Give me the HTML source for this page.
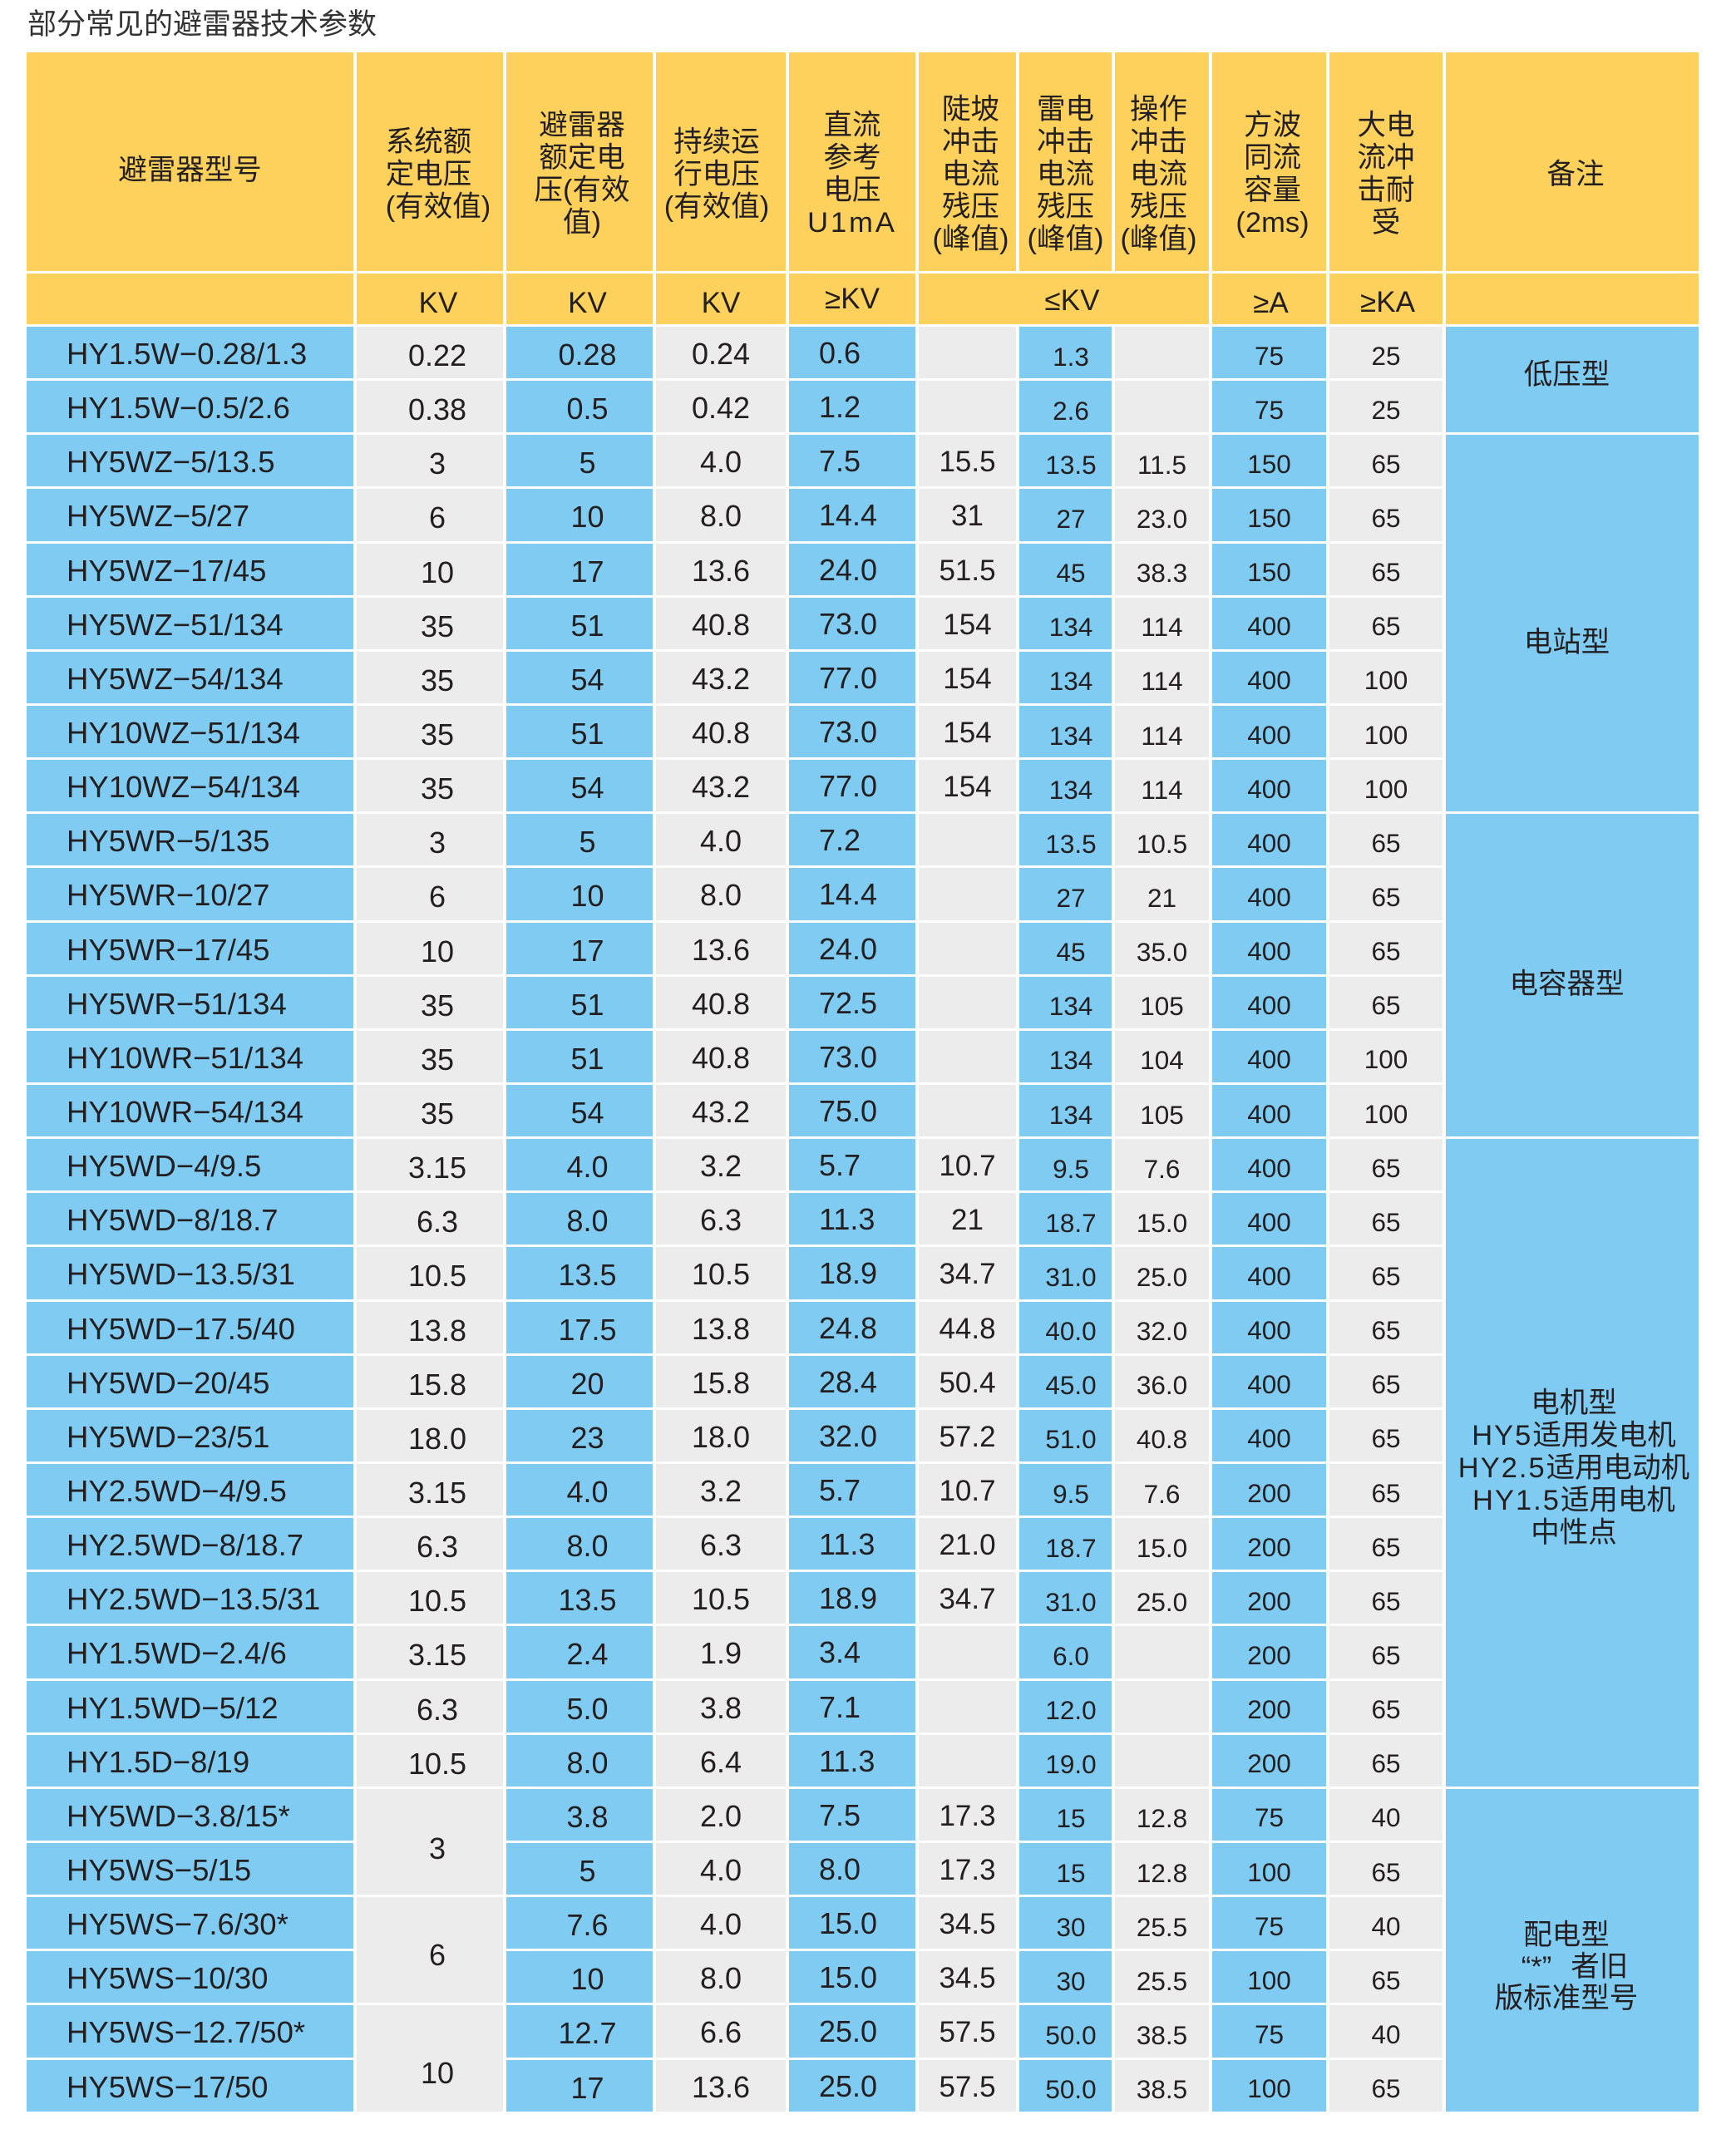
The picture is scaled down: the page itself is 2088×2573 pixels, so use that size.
<!DOCTYPE html>
<html lang="zh-CN">
<head>
<meta charset="utf-8">
<style>
*{margin:0;padding:0;box-sizing:border-box}
html,body{width:2088px;height:2573px}
body{background:#fff;position:relative;overflow:hidden;font-family:"Liberation Sans","Noto Sans CJK SC",sans-serif;color:#231f20}
.t{position:absolute;left:33px;top:6px;font-size:35px;line-height:48px;color:#333;white-space:nowrap}
.h{position:absolute;top:63px;height:263px;background:#FDD15B;display:flex;align-items:center;justify-content:center;padding-top:31px;font-size:34.5px;line-height:39px;text-align:center;white-space:nowrap}
.s{position:absolute;top:329px;height:60.5px;background:#FDD15B;display:flex;align-items:center;justify-content:center;font-size:35px;padding-top:9px;white-space:nowrap}
.col{position:absolute;top:393px;display:grid;grid-template-columns:100%;grid-auto-rows:62.15px;row-gap:3px}
.col>div{display:flex;align-items:center;justify-content:center;white-space:nowrap}
.b>div{background:#7FCBF2}
.g>div{background:#ECECEC}
.c0{left:32px;width:393px}
.c0>div{justify-content:flex-start;padding-left:48px;padding-top:4px;font-size:36.5px}
.c1{left:429px;width:176px}
.c1>div{padding-left:18px;padding-top:8px;font-size:36px}
.c2{left:609px;width:176px}
.c2>div{padding-left:19px;padding-top:6px;font-size:36px}
.c3{left:789px;width:156px}
.c3>div{padding-top:4px;font-size:36px}
.c4{left:949px;width:152px}
.c4>div{justify-content:flex-start;padding-left:36px;padding-top:2px;font-size:36px}
.c5{left:1105px;width:117px}
.c5>div{padding-top:4px;font-size:35px}
.c6{left:1226px;width:111px}
.c6>div{padding-left:13px;padding-top:10px;font-size:31.5px}
.c7{left:1341px;width:113px}
.c7>div{padding-top:10px;font-size:31.5px}
.c8{left:1458px;width:137px}
.c8>div{padding-top:8px;font-size:31.5px}
.c9{left:1599px;width:136px}
.c9>div{padding-top:8px;font-size:31.5px}
.c10{left:1739px;width:304px}
.c10>div{font-size:34.5px;line-height:39px;text-align:center;flex-direction:column}
.lt{letter-spacing:2px}
</style>
</head>
<body>
<div class="t">部分常见的避雷器技术参数</div>

<div class="h" style="left:32px;width:393px;padding-top:21px"><div>避雷器型号</div></div>
<div class="h" style="left:429px;width:176px;padding-left:20px"><div style="text-align:left">系统额<br>定电压<br>(有效值)</div></div>
<div class="h" style="left:609px;width:176px;padding-left:6px"><div>避雷器<br>额定电<br>压(有效<br>值)</div></div>
<div class="h" style="left:789px;width:156px;padding-right:10px"><div>持续运<br>行电压<br>(有效值)</div></div>
<div class="h" style="left:949px;width:152px"><div>直流<br>参考<br>电压<br><span style="letter-spacing:3px">U1mA</span></div></div>
<div class="h" style="left:1105px;width:117px;padding-left:8px"><div>陡坡<br>冲击<br>电流<br>残压<br>(峰值)</div></div>
<div class="h" style="left:1226px;width:111px"><div>雷电<br>冲击<br>电流<br>残压<br>(峰值)</div></div>
<div class="h" style="left:1341px;width:113px;padding-right:8px"><div>操作<br>冲击<br>电流<br>残压<br>(峰值)</div></div>
<div class="h" style="left:1458px;width:137px;padding-left:8px"><div>方波<br>同流<br>容量<br>(2ms)</div></div>
<div class="h" style="left:1599px;width:136px"><div>大电<br>流冲<br>击耐<br>受</div></div>
<div class="h" style="left:1739px;width:304px;padding-left:8px"><div>备注</div></div>

<div class="s" style="left:32px;width:393px"></div>
<div class="s" style="left:429px;width:176px;padding-left:20px;padding-top:11px">KV</div>
<div class="s" style="left:609px;width:176px;padding-left:19px;padding-top:11px">KV</div>
<div class="s" style="left:789px;width:156px;padding-top:11px">KV</div>
<div class="s" style="left:949px;width:152px;padding-top:1px">≥KV</div>
<div class="s" style="left:1105px;width:349px;padding-left:20px;padding-top:5px">≤KV</div>
<div class="s" style="left:1458px;width:137px;padding-left:4px;padding-top:11px">≥A</div>
<div class="s" style="left:1599px;width:136px;padding-left:4px;padding-top:10px">≥KA</div>
<div class="s" style="left:1739px;width:304px"></div>

<div class="col b c0">
<div>HY1.5W−0.28/1.3</div>
<div>HY1.5W−0.5/2.6</div>
<div>HY5WZ−5/13.5</div>
<div>HY5WZ−5/27</div>
<div>HY5WZ−17/45</div>
<div>HY5WZ−51/134</div>
<div>HY5WZ−54/134</div>
<div>HY10WZ−51/134</div>
<div>HY10WZ−54/134</div>
<div>HY5WR−5/135</div>
<div>HY5WR−10/27</div>
<div>HY5WR−17/45</div>
<div>HY5WR−51/134</div>
<div>HY10WR−51/134</div>
<div>HY10WR−54/134</div>
<div>HY5WD−4/9.5</div>
<div>HY5WD−8/18.7</div>
<div>HY5WD−13.5/31</div>
<div>HY5WD−17.5/40</div>
<div>HY5WD−20/45</div>
<div>HY5WD−23/51</div>
<div>HY2.5WD−4/9.5</div>
<div>HY2.5WD−8/18.7</div>
<div>HY2.5WD−13.5/31</div>
<div>HY1.5WD−2.4/6</div>
<div>HY1.5WD−5/12</div>
<div>HY1.5D−8/19</div>
<div>HY5WD−3.8/15*</div>
<div>HY5WS−5/15</div>
<div>HY5WS−7.6/30*</div>
<div>HY5WS−10/30</div>
<div>HY5WS−12.7/50*</div>
<div>HY5WS−17/50</div>
</div>

<div class="col g c1">
<div>0.22</div><div>0.38</div><div>3</div><div>6</div><div>10</div><div>35</div><div>35</div><div>35</div><div>35</div>
<div>3</div><div>6</div><div>10</div><div>35</div><div>35</div><div>35</div>
<div>3.15</div><div>6.3</div><div>10.5</div><div>13.8</div><div>15.8</div><div>18.0</div>
<div>3.15</div><div>6.3</div><div>10.5</div><div>3.15</div><div>6.3</div><div>10.5</div>
<div style="grid-row:span 2;padding-top:18px">3</div>
<div style="grid-row:span 2;padding-top:12px">6</div>
<div style="grid-row:span 2;padding-top:35px">10</div>
</div>

<div class="col b c2">
<div>0.28</div><div>0.5</div><div>5</div><div>10</div><div>17</div><div>51</div><div>54</div><div>51</div><div>54</div>
<div>5</div><div>10</div><div>17</div><div>51</div><div>51</div><div>54</div>
<div>4.0</div><div>8.0</div><div>13.5</div><div>17.5</div><div>20</div><div>23</div>
<div>4.0</div><div>8.0</div><div>13.5</div><div>2.4</div><div>5.0</div><div>8.0</div>
<div>3.8</div><div>5</div><div>7.6</div><div>10</div><div>12.7</div><div>17</div>
</div>

<div class="col g c3">
<div>0.24</div><div>0.42</div><div>4.0</div><div>8.0</div><div>13.6</div><div>40.8</div><div>43.2</div><div>40.8</div><div>43.2</div>
<div>4.0</div><div>8.0</div><div>13.6</div><div>40.8</div><div>40.8</div><div>43.2</div>
<div>3.2</div><div>6.3</div><div>10.5</div><div>13.8</div><div>15.8</div><div>18.0</div>
<div>3.2</div><div>6.3</div><div>10.5</div><div>1.9</div><div>3.8</div><div>6.4</div>
<div>2.0</div><div>4.0</div><div>4.0</div><div>8.0</div><div>6.6</div><div>13.6</div>
</div>

<div class="col b c4">
<div>0.6</div><div>1.2</div><div>7.5</div><div>14.4</div><div>24.0</div><div>73.0</div><div>77.0</div><div>73.0</div><div>77.0</div>
<div>7.2</div><div>14.4</div><div>24.0</div><div>72.5</div><div>73.0</div><div>75.0</div>
<div>5.7</div><div>11.3</div><div>18.9</div><div>24.8</div><div>28.4</div><div>32.0</div>
<div>5.7</div><div>11.3</div><div>18.9</div><div>3.4</div><div>7.1</div><div>11.3</div>
<div>7.5</div><div>8.0</div><div>15.0</div><div>15.0</div><div>25.0</div><div>25.0</div>
</div>

<div class="col g c5">
<div></div><div></div><div>15.5</div><div>31</div><div>51.5</div><div>154</div><div>154</div><div>154</div><div>154</div>
<div></div><div></div><div></div><div></div><div></div><div></div>
<div>10.7</div><div>21</div><div>34.7</div><div>44.8</div><div>50.4</div><div>57.2</div>
<div>10.7</div><div>21.0</div><div>34.7</div><div></div><div></div><div></div>
<div>17.3</div><div>17.3</div><div>34.5</div><div>34.5</div><div>57.5</div><div>57.5</div>
</div>

<div class="col b c6">
<div>1.3</div><div>2.6</div><div>13.5</div><div>27</div><div>45</div><div>134</div><div>134</div><div>134</div><div>134</div>
<div>13.5</div><div>27</div><div>45</div><div>134</div><div>134</div><div>134</div>
<div>9.5</div><div>18.7</div><div>31.0</div><div>40.0</div><div>45.0</div><div>51.0</div>
<div>9.5</div><div>18.7</div><div>31.0</div><div>6.0</div><div>12.0</div><div>19.0</div>
<div>15</div><div>15</div><div>30</div><div>30</div><div>50.0</div><div>50.0</div>
</div>

<div class="col g c7">
<div></div><div></div><div>11.5</div><div>23.0</div><div>38.3</div><div>114</div><div>114</div><div>114</div><div>114</div>
<div>10.5</div><div>21</div><div>35.0</div><div>105</div><div>104</div><div>105</div>
<div>7.6</div><div>15.0</div><div>25.0</div><div>32.0</div><div>36.0</div><div>40.8</div>
<div>7.6</div><div>15.0</div><div>25.0</div><div></div><div></div><div></div>
<div>12.8</div><div>12.8</div><div>25.5</div><div>25.5</div><div>38.5</div><div>38.5</div>
</div>

<div class="col b c8">
<div>75</div><div>75</div><div>150</div><div>150</div><div>150</div><div>400</div><div>400</div><div>400</div><div>400</div>
<div>400</div><div>400</div><div>400</div><div>400</div><div>400</div><div>400</div>
<div>400</div><div>400</div><div>400</div><div>400</div><div>400</div><div>400</div>
<div>200</div><div>200</div><div>200</div><div>200</div><div>200</div><div>200</div>
<div>75</div><div>100</div><div>75</div><div>100</div><div>75</div><div>100</div>
</div>

<div class="col g c9">
<div>25</div><div>25</div><div>65</div><div>65</div><div>65</div><div>65</div><div>100</div><div>100</div><div>100</div>
<div>65</div><div>65</div><div>65</div><div>65</div><div>100</div><div>100</div>
<div>65</div><div>65</div><div>65</div><div>65</div><div>65</div><div>65</div>
<div>65</div><div>65</div><div>65</div><div>65</div><div>65</div><div>65</div>
<div>40</div><div>65</div><div>40</div><div>65</div><div>40</div><div>65</div>
</div>

<div class="col b c10">
<div style="grid-row:span 2;padding-bottom:11px;padding-right:13px">低压型</div>
<div style="grid-row:span 7;padding-top:48px;padding-right:13px">电站型</div>
<div style="grid-row:span 6;padding-top:23px;padding-right:13px">电容器型</div>
<div style="grid-row:span 12;padding-top:15px;padding-left:4px"><span>电机型</span><span><span class="lt">HY5</span>适用发电机</span><span><span class="lt">HY2.5</span>适用电动机</span><span><span class="lt">HY1.5</span>适用电机</span><span>中性点</span></div>
<div style="grid-row:span 6;padding-top:40px;padding-right:14px;line-height:38px"><span>配电型</span><span><span style="padding-left:20px">“*”</span><span style="padding-left:23px">者旧</span></span><span>版标准型号</span></div>
</div>

</body>
</html>
